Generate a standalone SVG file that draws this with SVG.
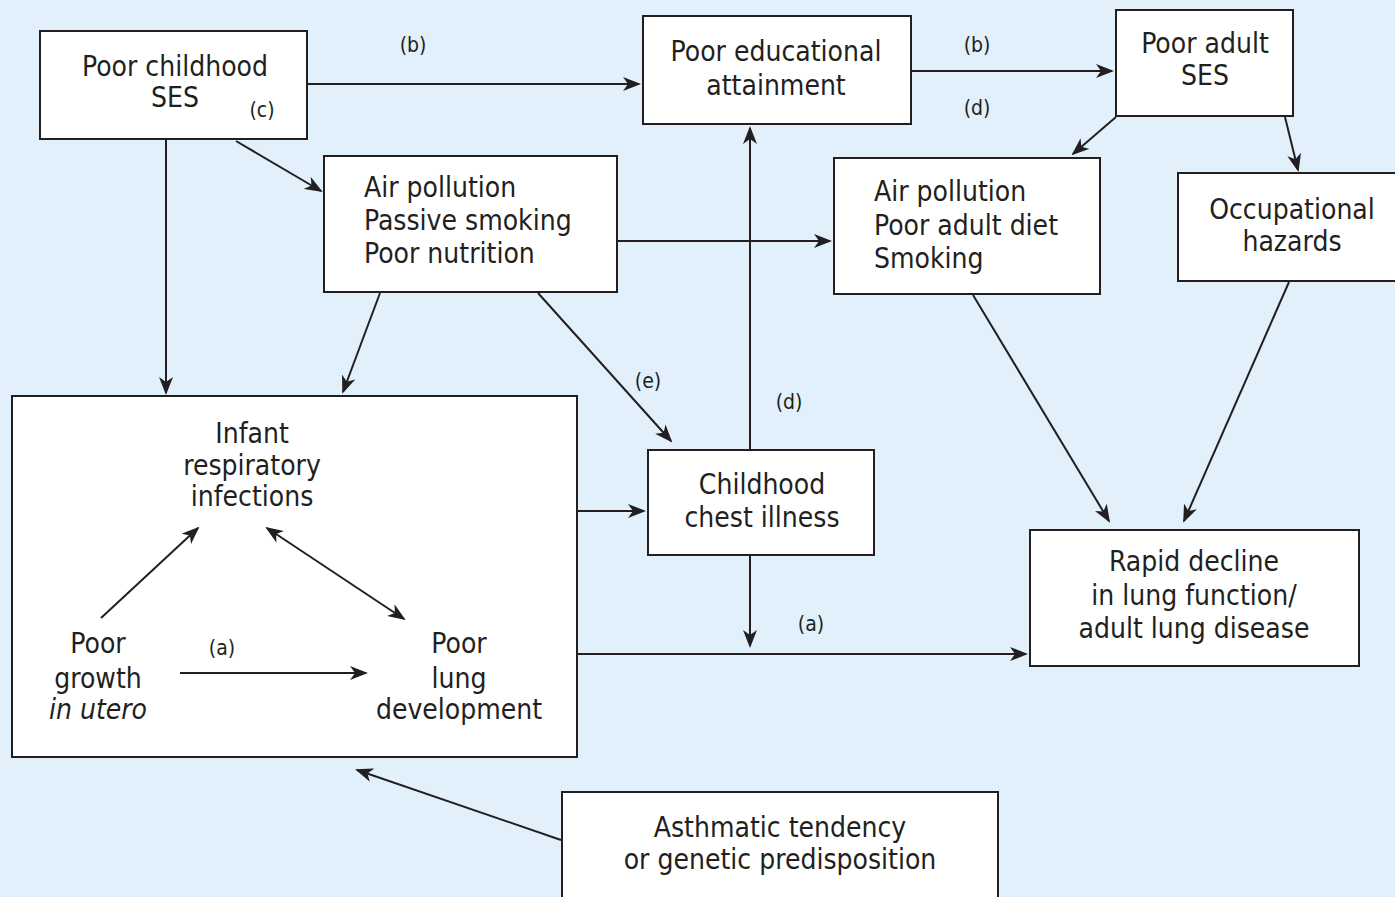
<svg xmlns="http://www.w3.org/2000/svg" width="1395" height="897" viewBox="0 0 1395 897">
<style>
.bg{fill:#e1f0fb}
.box{fill:#ffffff;stroke:#231f20;stroke-width:2}
.t{font-family:"Liberation Sans Narrow","DejaVu Sans Condensed","Liberation Sans",sans-serif;font-size:28px;fill:#231f20;text-anchor:middle}
.l{text-anchor:start}
.s{font-family:"Liberation Sans Narrow","DejaVu Sans Condensed","Liberation Sans",sans-serif;font-size:21px;fill:#231f20;text-anchor:middle}
.c{fill:none;stroke:#231f20;stroke-width:2}
.a{marker-end:url(#ah)}
.b{marker-start:url(#ahs);marker-end:url(#ah)}
</style>
<defs>
<marker id="ah" markerWidth="18" markerHeight="14" refX="16" refY="7" orient="auto" markerUnits="userSpaceOnUse">
<path d="M0,0 L18,7 L0,14 L5,7 z" fill="#231f20"/>
</marker>
<marker id="ahs" markerWidth="18" markerHeight="14" refX="2" refY="7" orient="auto" markerUnits="userSpaceOnUse">
<path d="M18,0 L0,7 L18,14 L13,7 z" fill="#231f20"/>
</marker>
</defs>
<rect class="bg" x="0" y="0" width="1395" height="897"/>

<g id="n-childhood-ses">
<rect class="box" x="40" y="31" width="267" height="108"/>
<text class="t" x="175" y="76">Poor childhood</text>
<text class="t" x="175" y="107">SES</text>
<text class="s" x="262" y="117">(c)</text>
</g>

<g id="n-education">
<rect class="box" x="643" y="16" width="268" height="108"/>
<text class="t" x="776" y="61">Poor educational</text>
<text class="t" x="776" y="95">attainment</text>
</g>

<g id="n-adult-ses">
<rect class="box" x="1116" y="10" width="177" height="106"/>
<text class="t" x="1205" y="53">Poor adult</text>
<text class="t" x="1205" y="85">SES</text>
</g>

<g id="n-child-env">
<rect class="box" x="324" y="156" width="293" height="136"/>
<text class="t l" x="364" y="197">Air pollution</text>
<text class="t l" x="364" y="230">Passive smoking</text>
<text class="t l" x="364" y="263">Poor nutrition</text>
</g>

<g id="n-adult-env">
<rect class="box" x="834" y="158" width="266" height="136"/>
<text class="t l" x="874" y="201">Air pollution</text>
<text class="t l" x="874" y="235">Poor adult diet</text>
<text class="t l" x="874" y="268">Smoking</text>
</g>

<g id="n-occupational">
<rect class="box" x="1178" y="173" width="230" height="108"/>
<text class="t" x="1292" y="219">Occupational</text>
<text class="t" x="1292" y="251">hazards</text>
</g>

<g id="n-early-life">
<rect class="box" x="12" y="396" width="565" height="361"/>
<text class="t" x="252" y="443">Infant</text>
<text class="t" x="252" y="475">respiratory</text>
<text class="t" x="252" y="506">infections</text>
<text class="t" x="98" y="653">Poor</text>
<text class="t" x="98" y="688">growth</text>
<text class="t" x="98" y="719" font-style="italic">in utero</text>
<text class="s" x="222" y="655">(a)</text>
<text class="t" x="459" y="653">Poor</text>
<text class="t" x="459" y="688">lung</text>
<text class="t" x="459" y="719">development</text>
</g>

<g id="n-chest-illness">
<rect class="box" x="648" y="450" width="226" height="105"/>
<text class="t" x="762" y="494">Childhood</text>
<text class="t" x="762" y="527">chest illness</text>
</g>

<g id="n-decline">
<rect class="box" x="1030" y="530" width="329" height="136"/>
<text class="t" x="1194" y="571">Rapid decline</text>
<text class="t" x="1194" y="605">in lung function/</text>
<text class="t" x="1194" y="638">adult lung disease</text>
</g>

<g id="n-asthma">
<rect class="box" x="562" y="792" width="436" height="120"/>
<text class="t" x="780" y="837">Asthmatic tendency</text>
<text class="t" x="780" y="869">or genetic predisposition</text>
</g>

<g id="connectors">
<line class="c a" x1="308" y1="84" x2="639" y2="84"/>
<line class="c a" x1="912" y1="71" x2="1112" y2="71"/>
<line class="c a" x1="1116" y1="117" x2="1073" y2="154"/>
<line class="c a" x1="1285" y1="117" x2="1298" y2="170"/>
<line class="c a" x1="236" y1="141" x2="321" y2="191"/>
<line class="c a" x1="166" y1="140" x2="166" y2="393"/>
<line class="c a" x1="380" y1="293" x2="343" y2="392"/>
<line class="c a" x1="538" y1="293" x2="671" y2="441"/>
<line class="c a" x1="618" y1="241" x2="830" y2="241"/>
<line class="c a" x1="750" y1="449" x2="750" y2="128"/>
<line class="c a" x1="101" y1="618" x2="198" y2="528"/>
<line class="c b" x1="267" y1="528" x2="404" y2="619"/>
<line class="c a" x1="180" y1="673" x2="366" y2="673"/>
<line class="c a" x1="578" y1="511" x2="644" y2="511"/>
<line class="c a" x1="750" y1="556" x2="750" y2="646"/>
<line class="c a" x1="578" y1="654" x2="1026" y2="654"/>
<line class="c a" x1="973" y1="295" x2="1109" y2="521"/>
<line class="c a" x1="1289" y1="282" x2="1184" y2="521"/>
<line class="c a" x1="561" y1="840" x2="357" y2="770"/>
<text class="s" x="413" y="52">(b)</text>
<text class="s" x="977" y="52">(b)</text>
<text class="s" x="977" y="115">(d)</text>
<text class="s" x="648" y="388">(e)</text>
<text class="s" x="789" y="409">(d)</text>
<text class="s" x="811" y="631">(a)</text>
</g>
</svg>
